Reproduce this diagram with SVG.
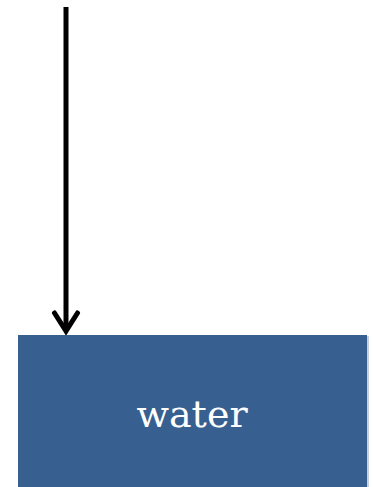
<svg xmlns="http://www.w3.org/2000/svg" width="373" height="487" viewBox="0 0 373 487">
  <style>
    .box { fill: #375f8f; }
    .label { font-family: "DejaVu Serif", "Liberation Serif", serif; font-size: 38px; fill: #ffffff; text-anchor: middle; }
    .wire { stroke: #000000; stroke-width: 5; fill: none; }
  </style>
  <defs>
    <!-- open chevron head, drawn in user units with the tip at the line end -->
    <marker id="head" viewBox="-22 -14 26 28" refX="0" refY="0" markerWidth="26" markerHeight="28" markerUnits="userSpaceOnUse" orient="auto" overflow="visible">
      <path d="M-18,-11.5 L0,0 L-18,11.5" fill="none" stroke="#000" stroke-width="5" stroke-linecap="round" stroke-linejoin="miter"/>
    </marker>
  </defs>
  <g id="connectors">
    <line class="wire" x1="66" y1="7" x2="66" y2="331" marker-end="url(#head)"/>
  </g>
  <g id="water">
    <rect x="19" y="336" width="350" height="160" fill="#c8d0dc"/>
    <rect class="box" x="18" y="335" width="349" height="160"/>
    <text class="label" x="192" y="427">water</text>
  </g>
</svg>
